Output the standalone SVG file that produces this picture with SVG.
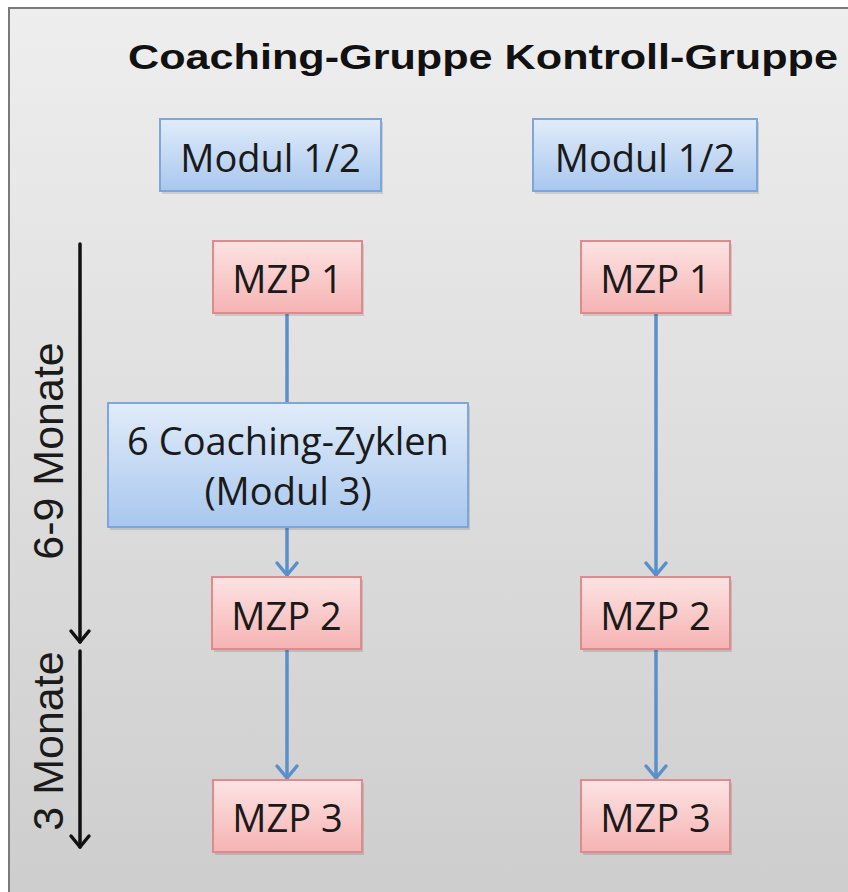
<svg xmlns="http://www.w3.org/2000/svg" width="848" height="892" viewBox="0 0 848 892">
<defs>
<linearGradient id="bg" x1="0" y1="0" x2="0" y2="1">
<stop offset="0" stop-color="#eeeeee"/>
<stop offset="1" stop-color="#cdcdcd"/>
</linearGradient>
<linearGradient id="blue" x1="0" y1="0" x2="0" y2="1">
<stop offset="0" stop-color="#e1ecfa"/>
<stop offset="1" stop-color="#a8c7ee"/>
</linearGradient>
<linearGradient id="red" x1="0" y1="0" x2="0" y2="1">
<stop offset="0" stop-color="#fde3e3"/>
<stop offset="1" stop-color="#f6b3b3"/>
</linearGradient>
<style>
.bx-b{fill:url(#blue);stroke:#7fa6d8;stroke-width:2}
.bx-r{fill:url(#red);stroke:#e08b8b;stroke-width:2}
.sh{fill:#000;opacity:0.12}
.lbl{font-family:"Open Sans","Noto Sans",sans-serif;font-size:38px;fill:#1a1a1a;text-anchor:middle}
.side{font-family:"Liberation Sans",Arial,sans-serif;font-size:43px;fill:#1a1a1a;text-anchor:middle}
.title{font-family:"Liberation Sans",Arial,sans-serif;font-size:35px;font-weight:bold;fill:#111}
.conn{stroke:#5b8fcb;stroke-width:3.5;fill:none;stroke-linecap:round;stroke-linejoin:round}
.time{stroke:#111;stroke-width:3.5;fill:none;stroke-linecap:round;stroke-linejoin:round}
</style>
</defs>
<rect x="0" y="0" width="848" height="892" fill="#ffffff"/>
<rect x="9" y="8" width="850" height="900" fill="url(#bg)" stroke="#7a7a7a" stroke-width="2"/>
<text class="title" x="128" y="69" textLength="710" lengthAdjust="spacingAndGlyphs">Coaching-Gruppe Kontroll-Gruppe</text>

<g id="connectors">
<line class="conn" x1="287" y1="314" x2="287" y2="402"/>
<line class="conn" x1="287" y1="528" x2="287" y2="575"/>
<polyline class="conn" points="277,563 287,575 297,563"/>
<line class="conn" x1="287" y1="650" x2="287" y2="778"/>
<polyline class="conn" points="277,766 287,778 297,766"/>
<line class="conn" x1="656" y1="314" x2="656" y2="575"/>
<polyline class="conn" points="646,563 656,575 666,563"/>
<line class="conn" x1="656" y1="650" x2="656" y2="778"/>
<polyline class="conn" points="646,766 656,778 666,766"/>
<line class="time" x1="80" y1="244" x2="80" y2="642"/>
<polyline class="time" points="71,631 80,642 89,631"/>
<line class="time" x1="80" y1="651" x2="80" y2="847"/>
<polyline class="time" points="71,836 80,847 89,836"/>
</g>

<g id="modul-cg">
<rect class="sh" x="162" y="122" width="221" height="72"/>
<rect class="bx-b" x="160" y="119" width="221" height="72"/>
<text class="lbl" x="270.5" y="172">Modul 1/2</text>
</g>
<g id="modul-kg">
<rect class="sh" x="535" y="122" width="224" height="72"/>
<rect class="bx-b" x="533" y="119" width="224" height="72"/>
<text class="lbl" x="645" y="172">Modul 1/2</text>
</g>
<g id="mzp1-cg">
<rect class="sh" x="215" y="244" width="149" height="72"/>
<rect class="bx-r" x="213" y="241" width="149" height="72"/>
<text class="lbl" x="287.5" y="293">MZP 1</text>
</g>
<g id="mzp1-kg">
<rect class="sh" x="583" y="244" width="149" height="72"/>
<rect class="bx-r" x="581" y="241" width="149" height="72"/>
<text class="lbl" x="655.5" y="293">MZP 1</text>
</g>
<g id="coaching">
<rect class="sh" x="110" y="406" width="360" height="124"/>
<rect class="bx-b" x="108" y="403" width="360" height="124"/>
<text class="lbl" x="288" y="455">6 Coaching-Zyklen</text>
<text class="lbl" x="288" y="505">(Modul 3)</text>
</g>
<g id="mzp2-cg">
<rect class="sh" x="214" y="580" width="149" height="72"/>
<rect class="bx-r" x="212" y="577" width="149" height="72"/>
<text class="lbl" x="286.5" y="630">MZP 2</text>
</g>
<g id="mzp2-kg">
<rect class="sh" x="583" y="580" width="149" height="72"/>
<rect class="bx-r" x="581" y="577" width="149" height="72"/>
<text class="lbl" x="655.5" y="630">MZP 2</text>
</g>
<g id="mzp3-cg">
<rect class="sh" x="215" y="783" width="149" height="72"/>
<rect class="bx-r" x="213" y="780" width="149" height="72"/>
<text class="lbl" x="287.5" y="832">MZP 3</text>
</g>
<g id="mzp3-kg">
<rect class="sh" x="583" y="783" width="149" height="72"/>
<rect class="bx-r" x="581" y="780" width="149" height="72"/>
<text class="lbl" x="655.5" y="832">MZP 3</text>
</g>
<g id="label-69">
<text class="side" transform="translate(63,451) rotate(-90)">6-9 Monate</text>
</g>
<g id="label-3">
<text class="side" transform="translate(63,741) rotate(-90)">3 Monate</text>
</g>
</svg>
